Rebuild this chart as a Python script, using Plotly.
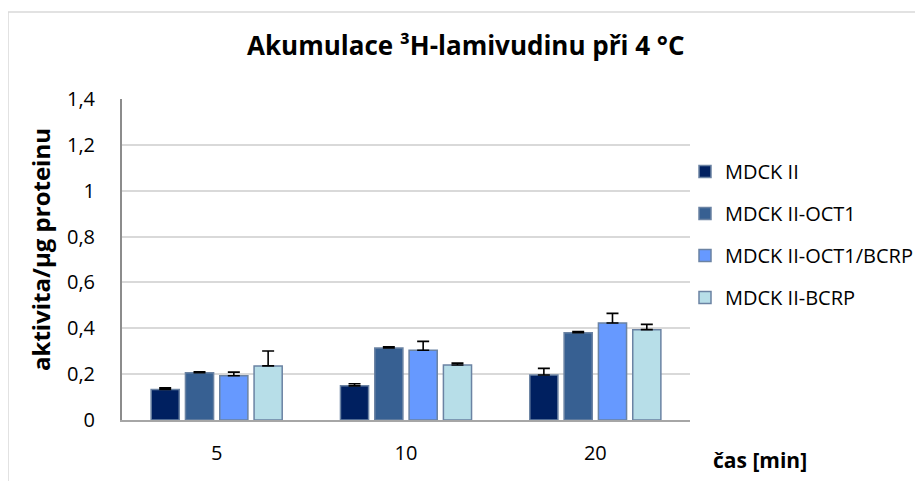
import plotly.graph_objects as go

categories = ["5", "10", "20"]
series_names = ["MDCK II", "MDCK II-OCT1", "MDCK II-OCT1/BCRP", "MDCK II-BCRP"]
values_mdck = [0.133, 0.149, 0.196]
values_oct1 = [0.206, 0.314, 0.381]
values_oct1_bcrp = [0.193, 0.304, 0.423]
values_bcrp = [0.236, 0.240, 0.394]
err_mdck = [0.007, 0.009, 0.029]
err_oct1 = [0.004, 0.005, 0.005]
err_oct1_bcrp = [0.016, 0.039, 0.042]
err_bcrp = [0.065, 0.008, 0.023]
colors = ["#002060", "#376092", "#6699ff", "#b7dee8"]
y_tickvals = [0, 0.2, 0.4, 0.6, 0.8, 1.0, 1.2, 1.4]
y_ticktext = ["0", "0,2", "0,4", "0,6", "0,8", "1", "1,2", "1,4"]

FONT = "Open Sans"
values = [values_mdck, values_oct1, values_oct1_bcrp, values_bcrp]
errors = [err_mdck, err_oct1, err_oct1_bcrp, err_bcrp]

# page is offset by the browser's 8px body margin
W, H = 915, 473
L, R, T, B = 114, 233, 91, 61
PW, PH = W - L - R, H - T - B


def px(xf):
    return (xf - L) / PW


def py(yf):
    return (H - B - yf) / PH


fig = go.Figure()
for i, name in enumerate(series_names):
    fig.add_trace(go.Bar(
        x=categories, y=values[i], name=name,
        marker=dict(color=colors[i], line=dict(color="#6b83a3", width=1.5)),
        error_y=dict(type="data", symmetric=False, array=errors[i],
                     arrayminus=[0] * len(errors[i]),
                     color="black", thickness=1.6, width=6),
        legendgroup=name,
    ))

fig.update_layout(
    width=W, height=H,
    margin=dict(l=L, r=R, t=T, b=B, autoexpand=False),
    paper_bgcolor="white", plot_bgcolor="white",
    barmode="group", bargap=0.275, bargroupgap=0.18,
    font=dict(family=FONT, size=20, color="black"),
    showlegend=True,
    legend=dict(x=px(677), xanchor="left", y=py(144), yanchor="top",
                tracegroupgap=13, font=dict(family=FONT, size=20),
                bgcolor="rgba(0,0,0,0)"),
    xaxis=dict(type="category", showline=True, linecolor="#a6a6a6", linewidth=2,
               ticks="", tickfont=dict(size=20), showgrid=False,
               ticklabelstandoff=14),
    yaxis=dict(range=[0, 1.4], tickvals=y_tickvals, ticktext=y_ticktext,
               showline=True, linecolor="#8c8c8c", linewidth=2,
               showgrid=True, gridcolor="#d9d9d9", gridwidth=2,
               zeroline=False, ticks="", tickfont=dict(size=20),
               ticklabelstandoff=21),
)

fig.add_annotation(text="<b>Akumulace ³H-lamivudinu při 4 °C</b>", xref="paper", yref="paper",
                   x=px(458), y=py(37), xanchor="center", yanchor="middle",
                   showarrow=False, font=dict(family=FONT, size=26))
fig.add_annotation(text="<b>aktivita/μg proteinu</b>", xref="paper", yref="paper",
                   x=px(32), y=py(242), xanchor="center", yanchor="middle", textangle=-90,
                   showarrow=False, font=dict(family=FONT, size=24))
fig.add_annotation(text="<b>čas [min]</b>", xref="paper", yref="paper",
                   x=px(752), y=py(452), xanchor="center", yanchor="middle",
                   showarrow=False, font=dict(family=FONT, size=21))

fig.add_shape(type="rect", xref="paper", yref="paper",
              x0=px(0), x1=px(914), y0=py(H + 40), y1=py(4),
              line=dict(color="#d9d9d9", width=1.5), fillcolor="rgba(0,0,0,0)", layer="below")

fig.write_html("out.html")
